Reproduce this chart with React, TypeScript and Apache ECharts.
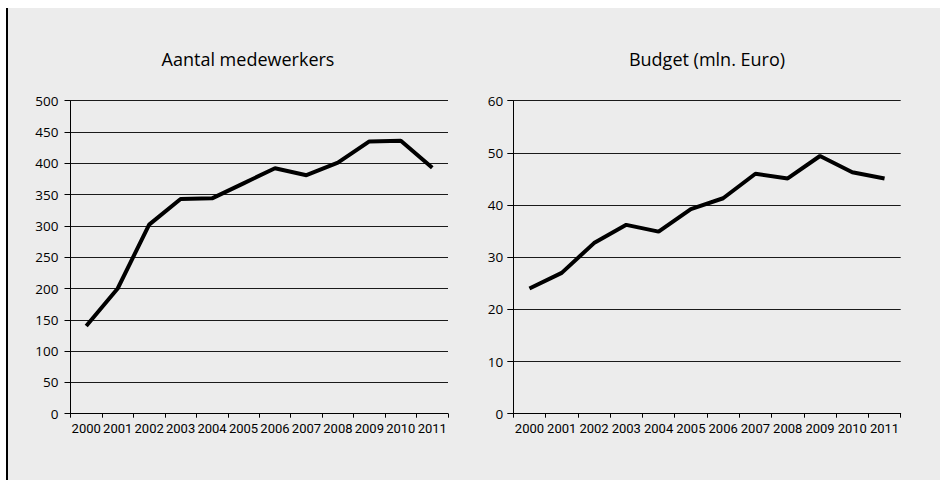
import React, { useEffect, useRef } from "react";
import * as echarts from "echarts";

const years = ["2000", "2001", "2002", "2003", "2004", "2005", "2006", "2007", "2008", "2009", "2010", "2011"];
const employees = [140, 200, 302, 343, 344, 368, 392, 381, 401, 435, 436, 393];
const budget = [24, 27, 32.7, 36.2, 34.9, 39.2, 41.3, 46, 45.1, 49.4, 46.3, 45.1];
const titles = ["Aantal medewerkers", "Budget (mln. Euro)"];
const employeeAxis = { min: 0, max: 500, interval: 50 };
const budgetAxis = { min: 0, max: 60, interval: 10 };

const humanist = "'Open Sans', 'Noto Sans', sans-serif";
const narrow = "Roboto, 'Liberation Sans', sans-serif";

export default function App() {
  const ref = useRef<HTMLDivElement>(null);
  useEffect(() => {
    document.body.style.margin = "0";
    const chart = echarts.init(ref.current!, null, { renderer: "svg" });
    const xAxisBase = {
      type: "category" as const,
      data: years,
      boundaryGap: true,
      axisLine: { show: true, lineStyle: { color: "#000", width: 1 } },
      axisTick: { show: true, length: 4, interval: 0, lineStyle: { color: "#000" } },
      axisLabel: { interval: 0, color: "#000", fontSize: 13, fontFamily: narrow, margin: 8 },
      splitLine: { show: false },
    };
    const yAxisBase = {
      type: "value" as const,
      axisLine: { show: true, lineStyle: { color: "#000", width: 1 } },
      axisTick: { show: true, length: 6, lineStyle: { color: "#000" } },
      splitLine: { show: true, lineStyle: { color: "#1a1a1a", width: 1 } },
    };
    chart.setOption({
      animation: false,
      backgroundColor: "#ffffff",
      graphic: [
        { type: "rect", shape: { x: 8, y: 8, width: 932, height: 472 }, style: { fill: "#ececec" }, z: -10 },
        { type: "rect", shape: { x: 6, y: 8, width: 2, height: 472 }, style: { fill: "#000" }, z: -9 },
        {
          type: "text", x: 248, y: 59,
          style: { text: titles[0], fill: "#000", font: `18px ${humanist}`, textAlign: "center", textVerticalAlign: "middle" },
        },
        {
          type: "text", x: 707, y: 59,
          style: { text: titles[1], fill: "#000", font: `18px ${humanist}`, textAlign: "center", textVerticalAlign: "middle" },
        },
      ],
      grid: [
        { left: 70.5, top: 100.7, width: 377.5, height: 313, containLabel: false },
        { left: 513.3, top: 100.7, width: 387.4, height: 313, containLabel: false },
      ],
      xAxis: [
        { ...xAxisBase, gridIndex: 0 },
        { ...xAxisBase, gridIndex: 1 },
      ],
      yAxis: [
        {
          ...yAxisBase, gridIndex: 0, ...employeeAxis,
          axisLabel: { color: "#000", fontSize: 13.5, fontFamily: humanist, margin: 12 },
        },
        {
          ...yAxisBase, gridIndex: 1, ...budgetAxis,
          axisLabel: { color: "#000", fontSize: 13.5, fontFamily: humanist, margin: 10 },
        },
      ],
      series: [
        {
          type: "line", xAxisIndex: 0, yAxisIndex: 0, data: employees,
          showSymbol: false, symbol: "none", lineStyle: { color: "#000", width: 4 }, z: 5,
        },
        {
          type: "line", xAxisIndex: 1, yAxisIndex: 1, data: budget,
          showSymbol: false, symbol: "none", lineStyle: { color: "#000", width: 4 }, z: 5,
        },
      ],
    });
    return () => chart.dispose();
  }, []);
  return <div ref={ref} style={{ width: 940, height: 480 }} />;
}
